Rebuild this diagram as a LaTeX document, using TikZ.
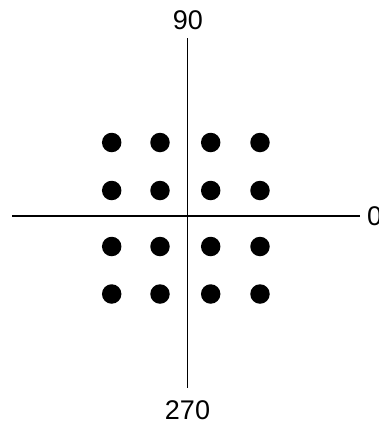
\documentclass[tikz,border=0pt]{standalone}
\usepackage{fontspec}
\setmainfont{Liberation Sans}
\begin{document}
\begin{tikzpicture}[x=1pt,y=-1pt,
  dot/.style={circle,fill=black,inner sep=0pt,minimum size=19.5pt},
  axislabel/.style={font=\fontsize{27}{27}\selectfont,inner sep=0pt},
  axis/.style={draw=black,line width=1.8pt}]
\useasboundingbox (0,0) rectangle (379,424);
\fill[white] (0,0) rectangle (379,424);
% axes
\coordinate (top) at (187.3,38);
\coordinate (bottom) at (187.3,388);
\coordinate (left) at (12,216);
\coordinate (right) at (360,216);
\draw[axis,line width=1.6pt] (top) -- (bottom);
\draw[axis,line width=2.2pt] (left) -- (right);
% labels
\node[axislabel] (l90) at (188,20) {90};
\node[axislabel] (l270) at (187.5,410) {270};
\node[axislabel,anchor=west] (l0) at (367,216) {0};
% dots
\foreach \i/\x in {1/111.7,2/160,3/210.7,4/260}{
  \foreach \j/\y in {1/142.5,2/190.5,3/246.5,4/294}{
    \node[dot] (d\i\j) at (\x,\y) {};
  }
}
\end{tikzpicture}
\end{document}
